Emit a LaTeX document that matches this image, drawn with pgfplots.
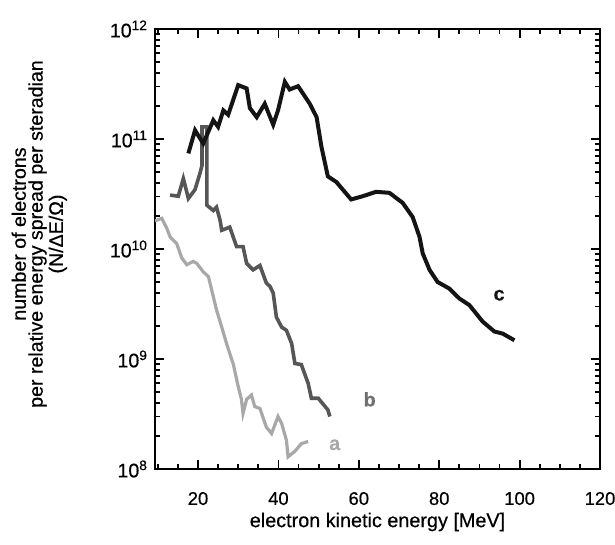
\documentclass[border=0pt]{standalone}
\usepackage{pgfplots}
\pgfplotsset{compat=1.18}
\usepackage{fontspec}
\setmainfont{Liberation Sans}[FakeBold=0.5]
\definecolor{cc}{HTML}{141414}
\definecolor{cb}{HTML}{565656}
\definecolor{ca}{HTML}{A8A8A8}
\begin{document}
\begin{tikzpicture}
\begin{axis}[
  name=ax,
  scale only axis,
  width=222.5pt, height=220pt,
  ymode=log, log basis y=10,
  xmin=9.3, xmax=120, ymin=1e8, ymax=1e12,
  xtick={20,40,60,80,100,120},
  minor xtick={10,15,...,115},
  ytick={1e8,1e9,1e10,1e11,1e12},
  yticklabels={10\textsuperscript{8},10\textsuperscript{9},10\textsuperscript{10},10\textsuperscript{11},10\textsuperscript{12}},
  minor ytick={2e8,3e8,4e8,5e8,6e8,7e8,8e8,9e8,2e9,3e9,4e9,5e9,6e9,7e9,8e9,9e9,2e10,3e10,4e10,5e10,6e10,7e10,8e10,9e10,2e11,3e11,4e11,5e11,6e11,7e11,8e11,9e11},
  tick pos=both, tick align=inside,
  axis line style={line width=1.4pt},
  major tick length=4.5pt, minor tick length=2.5pt,
  every tick/.style={black, line width=0.9pt},
  /pgf/number format/assume math mode=true,
  xticklabel style={font=\fontsize{9.2}{10}\selectfont, yshift=-8pt},
  yticklabel style={font=\fontsize{9.8}{10}\selectfont},
  xlabel={electron kinetic energy [MeV]},
  xlabel style={at={(axis description cs:0.5,0)}, anchor=center, yshift=-26.5pt, font=\fontsize{9.9}{10}\selectfont},
  ylabel={number of electrons\\per relative energy spread per steradian\\(N/ΔE/Ω)},
  ylabel style={at={(axis description cs:-0.26,0.534)}, anchor=center, align=center, font=\fontsize{9.8}{8.4}\selectfont},
  clip=true,
]
% curve a (light gray)
\addplot[ca, line width=1.6pt] coordinates {
(9.3,1.8e10) (11.0,1.9e10) (12.2,1.55e10) (13.05,1.29e10) (14.7,1.12e10)
(15.95,8.3e9) (17.2,7.2e9) (18.8,7.7e9) (19.7,7.4e9) (21.3,6.2e9)
(22.6,5.6e9) (23.8,3.7e9) (24.6,2.8e9) (25.9,1.95e9) (27.1,1.38e9)
(28.8,8.9e8) (30.0,5.6e8) (30.8,4.3e8) (31.2,3.2e8) (32.1,4.3e8)
(33.3,4.7e8) (34.1,3.7e8) (35.4,3.55e8) (37.0,2.4e8) (38.3,2.1e8)
(39.9,3.0e8) (40.8,2.6e8) (42.0,1.82e8) (42.4,1.29e8) (44.1,1.45e8)
(45.7,1.7e8) (47.4,1.78e8)
};
% curve b (dark gray)
\addplot[cb, line width=1.8pt] coordinates {
(13.05,3.09e10) (15.1,3.02e10) (16.35,4.37e10) (17.6,2.88e10) (19.26,3.47e10)
(20.5,4.9e10) (21.0,5.75e10) (21.0,1.29e11) (21.6,1.29e11) (22.2,1.29e11) (22.2,2.5e10)
(23.8,2.24e10) (24.6,2.4e10) (25.5,1.82e10) (25.9,1.48e10) (27.9,1.58e10)
(29.6,1.05e10) (31.2,1.05e10) (32.1,7.4e9) (33.7,6.46e9) (35.4,7.08e9)
(37.0,4.9e9) (37.9,4.57e9) (38.7,3.98e9) (39.5,2.4e9) (40.8,1.95e9)
(42.0,1.82e9) (43.3,1.38e9) (44.1,9.1e8) (45.7,8.9e8) (47.4,6.0e8)
(48.2,4.4e8) (49.9,4.4e8) (52.3,3.45e8) (52.8,3.0e8)
};
% curve c (black)
\addplot[cc, line width=2pt] coordinates {
(17.6,7.4e10) (19.26,1.2e11) (21.3,9.1e10) (23.8,1.48e11) (25.0,1.29e11)
(26.3,1.82e11) (27.5,1.66e11) (30.0,3.09e11) (32.1,2.88e11) (32.9,1.91e11)
(34.6,1.58e11) (36.6,2.09e11) (38.7,1.35e11) (39.9,1.82e11) (41.6,3.31e11)
(42.8,2.82e11) (44.9,3.02e11) (47.8,2.09e11) (49.5,1.58e11) (50.7,8.51e10)
(52.3,4.57e10) (54.4,4.07e10) (58.1,2.82e10) (61.0,3.02e10) (64.3,3.31e10)
(67.6,3.24e10) (70.9,2.63e10) (73.4,1.95e10) (75.1,1.29e10) (75.9,9.12e9)
(77.6,6.46e9) (79.6,5.01e9) (82.5,4.37e9) (85.0,3.55e9) (87.5,3.09e9)
(90.8,2.19e9) (93.7,1.78e9) (95.8,1.70e9) (98.7,1.48e9)
};
\node[font=\bfseries\fontsize{9.8}{10}\selectfont, text=cc] at (axis cs:94.9,3.8e9) {c};
\node[font=\bfseries\fontsize{9.8}{10}\selectfont, text=cb!85] at (axis cs:62.7,4.3e8) {b};
\node[font=\bfseries\fontsize{9.8}{10}\selectfont, text=ca] at (axis cs:54.0,1.66e8) {a};
\end{axis}
\pgfresetboundingbox
\path[use as bounding box] ([shift={(-77.5pt,-38pt)}]ax.south west) rectangle ([shift={(230pt,234.5pt)}]ax.south west);
\end{tikzpicture}
\end{document}
